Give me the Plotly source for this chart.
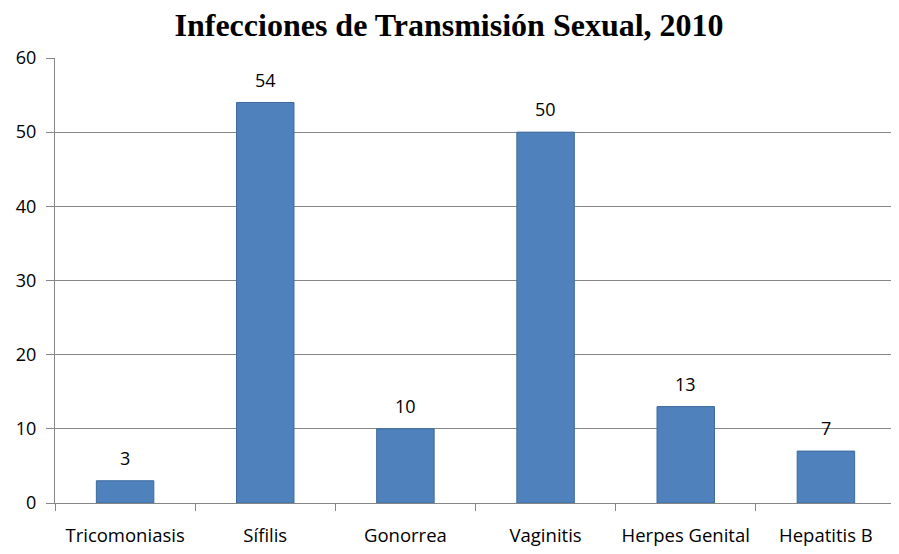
import plotly.graph_objects as go

categorias = ["Tricomoniasis", "Sífilis", "Gonorrea", "Vaginitis", "Herpes Genital", "Hepatitis B"]
casos = [3, 54, 10, 50, 13, 7]
y_ticks = [0, 10, 20, 30, 40, 50, 60]

fig = go.Figure()
fig.add_trace(go.Bar(
    x=categorias, y=casos,
    marker=dict(color="#4F81BD", line=dict(color="#3C6A9E", width=1)),
))

# etiquetas de datos sobre cada barra
for c, v in zip(categorias, casos):
    fig.add_annotation(x=c, y=v, text=str(v), showarrow=False,
                       yanchor="bottom", yshift=9,
                       font=dict(family="Open Sans", size=18, color="#000000"))

# la página tiene 8 px de margen en el body, se compensa aquí
fig.update_layout(
    title=dict(text="<b>Infecciones de Transmisión Sexual, 2010</b>",
               x=0.495, xanchor="center", y=0.968, yanchor="middle",
               font=dict(family="Liberation Serif", size=32, color="#000000")),
    width=891, height=538,
    margin=dict(l=47, r=3, t=50, b=43),
    plot_bgcolor="white", paper_bgcolor="white",
    bargap=0.59,
    showlegend=False,
)
fig.update_xaxes(
    automargin=False,
    showline=True, linecolor="#868686", linewidth=1,
    ticks="outside", tickson="boundaries", ticklen=7, tickcolor="#868686",
    tickfont=dict(family="Open Sans", size=18.5, color="#000000"),
    tickangle=0,
    ticklabelstandoff=16,
    showgrid=False,
)
fig.update_yaxes(
    automargin=False,
    range=[0, 60], tickvals=y_ticks,
    showline=True, linecolor="#868686", linewidth=1,
    ticks="outside", ticklen=8, tickcolor="#868686",
    showgrid=True, gridcolor="#868686", gridwidth=1,
    tickfont=dict(family="Open Sans", size=18, color="#000000"),
    ticklabelstandoff=6,
    zeroline=False,
)

fig.write_html("out.html")
